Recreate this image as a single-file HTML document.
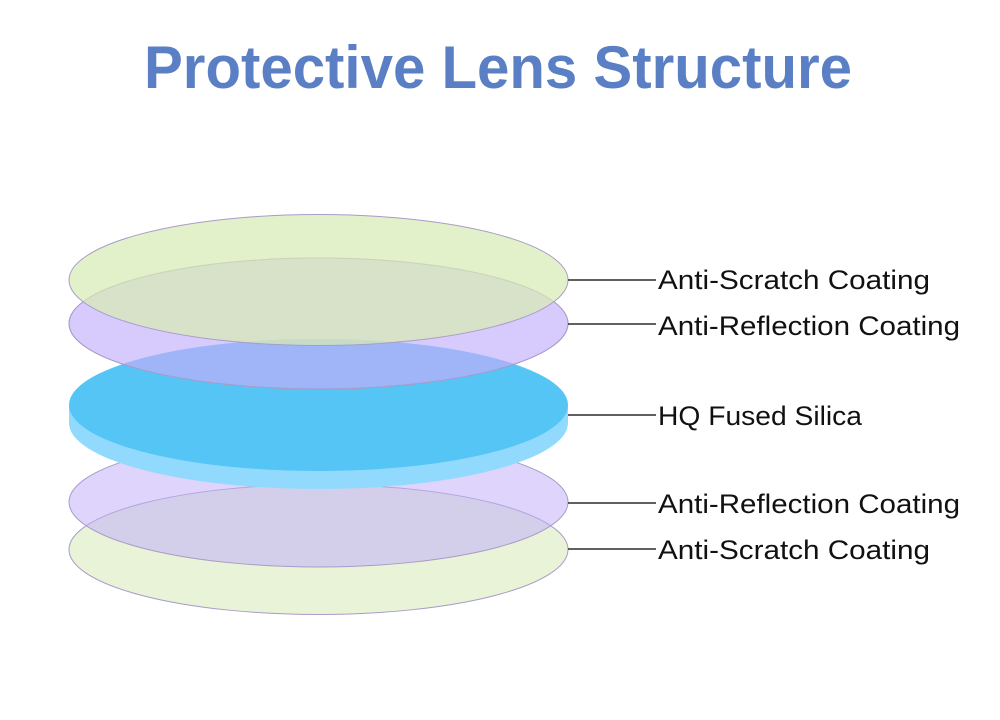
<!DOCTYPE html>
<html><head><meta charset="utf-8"><style>
html,body{margin:0;padding:0;background:#fff;width:1000px;height:720px;overflow:hidden}
</style></head><body>
<svg width="1000" height="720" viewBox="0 0 1000 720" xmlns="http://www.w3.org/2000/svg">
<defs><clipPath id="bc"><ellipse cx="318.5" cy="405" rx="249.5" ry="66"/></clipPath></defs>
<text x="498" y="88" text-anchor="middle" font-family="Liberation Sans, sans-serif" font-weight="bold" font-size="60" fill="#5a7fc4" textLength="708" lengthAdjust="spacingAndGlyphs">Protective Lens Structure</text>
<g stroke="#a89cc8" stroke-width="1">
<ellipse cx="318.5" cy="549.5" rx="249.5" ry="65" fill="#e9f3d8"/>
<ellipse cx="318.5" cy="502" rx="249.5" ry="65" fill="rgb(190,170,250)" fill-opacity="0.5"/>
</g>
<path d="M69 405 L69 423 A249.5 66 0 0 0 568 423 L568 405 Z" fill="#92dafd"/>
<ellipse cx="318.5" cy="405" rx="249.5" ry="66" fill="#55c5f5"/>
<g stroke="#a89cc8" stroke-width="1">
<ellipse cx="318.5" cy="323.5" rx="249.5" ry="65.5" fill="rgb(175,150,250)" fill-opacity="0.5"/>
</g>
<ellipse cx="318.5" cy="323.5" rx="249" ry="65" fill="#9fb5f8" clip-path="url(#bc)"/>
<ellipse cx="318.5" cy="323.5" rx="249.5" ry="65.5" fill="none" stroke="#a89cc8" stroke-width="1"/>
<ellipse cx="318.5" cy="280" rx="249.5" ry="65.5" fill="rgb(215,235,180)" fill-opacity="0.72" stroke="#a89cc8" stroke-width="1"/>
<g stroke="#000" stroke-width="1.3">
<line x1="568" y1="280" x2="656" y2="280"/>
<line x1="568" y1="324" x2="656" y2="324"/>
<line x1="568" y1="415" x2="656" y2="415"/>
<line x1="568" y1="503" x2="656" y2="503"/>
<line x1="568" y1="549" x2="656" y2="549"/>
</g>
<g font-family="Liberation Sans, sans-serif" font-size="27" fill="#111">
<text x="658" y="289" textLength="272" lengthAdjust="spacingAndGlyphs">Anti-Scratch Coating</text>
<text x="658" y="335" textLength="302" lengthAdjust="spacingAndGlyphs">Anti-Reflection Coating</text>
<text x="658" y="425" textLength="204" lengthAdjust="spacingAndGlyphs">HQ Fused Silica</text>
<text x="658" y="513" textLength="302" lengthAdjust="spacingAndGlyphs">Anti-Reflection Coating</text>
<text x="658" y="559" textLength="272" lengthAdjust="spacingAndGlyphs">Anti-Scratch Coating</text>
</g>
</svg>
</body></html>
